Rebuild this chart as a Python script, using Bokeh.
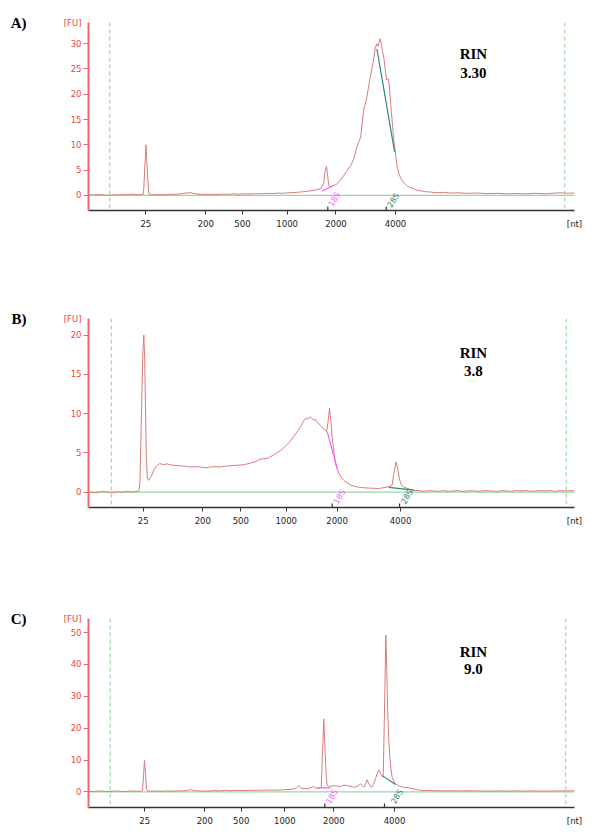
from bokeh.plotting import figure
from bokeh.layouts import column
from bokeh.models import FixedTicker, Span, Range1d, LinearAxis
from bokeh.core.properties import value
from bokeh.embed import file_html
from bokeh.resources import INLINE

# ---------------- data (migration time [s] vs fluorescence [FU]) ----------------
ladder_labels = ["25", "200", "500", "1000", "2000", "4000"]

# Panel A
ladder_a = [24.90, 31.07, 34.84, 39.44, 44.46, 50.58]
rrna_a = [43.62, 49.63]
markers_a = [21.19, 68.0]
rin_a = "3.30"
t_a = [19.0, 19.5, 20.0, 20.5, 21.0, 21.5, 22.0, 22.5, 23.0, 23.5, 24.0, 24.4, 24.66, 24.8, 24.92,
       25.05, 25.2, 25.5, 26.0, 26.5, 27.0, 27.5, 28.0, 28.5, 29.0, 29.5, 30.0, 30.5, 31.0, 31.5,
       32.0, 32.5, 33.0, 33.5, 34.0, 34.5, 35.0, 35.5, 36.0, 36.5, 37.0, 37.5, 38.0, 38.5, 39.0,
       39.5, 40.0, 40.5, 41.0, 41.5, 42.0, 42.5, 42.9, 43.2, 43.35, 43.49, 43.62, 43.75, 43.9,
       44.2, 44.6, 44.9, 45.3, 45.6, 46.0, 46.3, 46.6, 47.0, 47.3, 47.6, 47.9, 48.1, 48.3, 48.5,
       48.65, 48.8, 48.97, 49.1, 49.25, 49.4, 49.55, 49.7, 49.85, 49.95, 50.07, 50.24, 50.4,
       50.58, 50.75, 50.92, 51.15, 51.4, 51.7, 52.0, 52.4, 52.8, 53.2, 53.7, 54.2, 54.8, 55.5,
       56.2, 57.0, 58.0, 59.0, 60.0, 61.0, 62.0, 63.0, 64.0, 65.0, 66.0, 67.0, 67.8, 68.4, 69.0]
fu_a = [0.1, 0.05, 0.15, 0.1, 0.0, 0.1, 0.05, 0.2, 0.1, 0.25, 0.1, 0.15, 0.3, 6.0, 10.0,
        5.0, 0.3, 0.1, 0.15, 0.1, 0.15, 0.2, 0.2, 0.3, 0.45, 0.55, 0.3, 0.2, 0.15, 0.2,
        0.15, 0.2, 0.25, 0.2, 0.3, 0.2, 0.3, 0.25, 0.3, 0.35, 0.3, 0.4, 0.35, 0.45, 0.4,
        0.5, 0.55, 0.6, 0.7, 0.8, 0.95, 1.1, 1.3, 2.5, 5.0, 5.7, 3.5, 1.8, 1.7,
        1.9, 2.3, 3.0, 4.0, 4.9, 6.0, 7.2, 9.5, 11.5, 16.8, 19.0, 22.5, 24.5, 26.5, 29.0,
        30.0, 29.5, 31.0, 30.2, 28.5, 27.0, 24.5, 22.8, 23.0, 21.5, 18.5, 14.8, 11.0,
        8.3, 5.8, 4.3, 3.3, 2.6, 2.0, 1.6, 1.4, 1.0, 0.9, 0.7, 0.65, 0.5, 0.6,
        0.45, 0.5, 0.4, 0.45, 0.35, 0.4, 0.3, 0.35, 0.3, 0.4, 0.3, 0.45, 0.5, 0.4, 0.5]
seg18_a_t, seg18_a_fu = [43.04, 44.25], [0.85, 2.0]
seg28_a_t, seg28_a_fu = [48.67, 50.49], [29.0, 8.6]

# Panel B
ladder_b = [24.63, 30.76, 34.67, 39.34, 44.57, 51.10]
rrna_b = [44.07, 51.0]
markers_b = [21.34, 68.15]
rin_b = "3.8"
t_b = [19.0, 19.5, 20.0, 20.5, 21.0, 21.5, 22.0, 22.5, 23.0, 23.5, 24.0, 24.2, 24.3, 24.45, 24.6,
       24.69, 24.78, 24.86, 24.95, 25.05, 25.2, 25.45, 25.72, 26.0, 26.34, 26.7, 27.1, 27.5,
       27.95, 28.4, 28.98, 29.5, 30.0, 30.52, 31.0, 31.5, 32.0, 32.5, 33.0, 33.5, 33.95, 34.5,
       35.0, 35.67, 36.2, 36.7, 37.38, 38.0, 38.75, 39.3, 39.78, 40.3, 40.81, 41.1, 41.33, 41.6,
       41.84, 42.1, 42.36, 42.6, 42.88, 43.2, 43.5, 43.65, 43.8, 43.95, 44.07, 44.25, 44.41,
       44.75, 45.0, 45.27, 45.6, 45.96, 46.5, 46.98, 47.5, 48.0, 48.35, 48.7, 49.04, 49.5, 49.89,
       50.24, 50.43, 50.65, 50.84, 51.0, 51.2, 51.5, 51.79, 52.1, 52.47, 53.0, 53.5, 54.0, 54.5,
       55.0, 55.5, 56.0, 56.5, 57.0, 57.5, 58.0, 58.5, 59.0, 59.5, 60.0, 60.5, 61.0, 61.5, 62.0,
       62.5, 63.0, 63.5, 64.0, 64.5, 65.0, 65.5, 66.0, 66.5, 67.0, 67.5, 68.0, 68.5, 69.0]
fu_b = [0.05, -0.05, 0.0, 0.1, 0.0, -0.05, 0.05, 0.0, 0.1, 0.0, 0.1, 0.2, 1.5, 10.0, 18.0,
        20.0, 17.0, 11.0, 4.5, 1.8, 1.5, 2.0, 2.8, 3.3, 3.65, 3.5, 3.6, 3.45,
        3.4, 3.35, 3.3, 3.2, 3.25, 3.2, 3.1, 3.2, 3.25, 3.2, 3.3, 3.35, 3.4, 3.45,
        3.5, 3.7, 3.9, 4.2, 4.3, 4.7, 5.3, 5.9, 6.5, 7.4, 8.3, 9.0, 9.4, 9.3,
        9.6, 9.2, 9.2, 8.8, 8.5, 8.1, 7.7, 9.0, 10.65, 8.8, 7.0, 5.0, 3.65,
        2.4, 1.9, 1.5, 1.2, 0.9, 0.7, 0.6, 0.55, 0.5, 0.5, 0.45, 0.5, 0.6, 0.7,
        0.9, 2.5, 3.85, 2.8, 1.6, 0.9, 0.6, 0.5, 0.35, 0.25, 0.2, 0.1, 0.2, 0.15,
        0.1, 0.2, 0.1, 0.15, 0.2, 0.1, 0.15, 0.2, 0.1, 0.15, 0.2, 0.15, 0.1, 0.2, 0.15,
        0.1, 0.2, 0.15, 0.2, 0.1, 0.15, 0.2, 0.15, 0.2, 0.1, 0.2, 0.15, 0.2, 0.15]
seg18_b_t, seg18_b_fu = [43.56, 44.59], [7.7, 3.0]
seg28_b_t, seg28_b_fu = [49.89, 52.47], [0.6, 0.25]

# Panel C
ladder_c = [24.79, 30.96, 34.71, 39.20, 44.24, 50.48]
rrna_c = [43.31, 49.45]
markers_c = [21.23, 68.1]
rin_c = "9.0"
t_c = [19.0, 19.5, 20.0, 20.5, 21.0, 21.5, 22.0, 22.5, 23.0, 23.5, 24.0, 24.4, 24.56, 24.66, 24.76,
       24.86, 24.97, 25.1, 25.5, 26.0, 26.5, 27.0, 27.5, 28.0, 28.5, 29.0, 29.5, 30.0, 30.5, 31.0,
       31.5, 32.0, 32.5, 33.0, 33.5, 34.0, 34.5, 35.0, 35.5, 36.0, 36.5, 37.0, 37.5, 38.0, 38.75,
       39.3, 39.8, 40.3, 40.64, 40.9, 41.33, 41.8, 42.18, 42.4, 42.66, 42.94, 43.07, 43.21, 43.35,
       43.48, 43.56, 43.9, 44.24, 44.6, 44.93, 45.3, 45.62, 46.0, 46.29, 46.7, 46.98, 47.15, 47.32,
       47.5, 47.67, 47.85, 48.08, 48.3, 48.5, 48.7, 48.87, 49.0, 49.14, 49.32, 49.45, 49.59, 49.69,
       49.79, 49.9, 50.0, 50.12, 50.24, 50.4, 50.58, 51.0, 51.44, 52.0, 52.47, 53.0, 53.5, 54.0,
       54.5, 55.0, 55.5, 56.0, 57.0, 58.0, 59.0, 60.0, 61.0, 62.0, 63.0, 64.0, 65.0, 66.0, 67.0,
       68.0, 69.0]
fu_c = [0.2, 0.1, 0.3, 0.2, 0.1, 0.2, 0.3, 0.1, 0.2, 0.3, 0.2, 0.2, 0.4, 5.0, 9.85,
        6.0, 0.8, 0.3, 0.2, 0.3, 0.2, 0.3, 0.2, 0.3, 0.3, 0.4, 0.7, 0.35, 0.3, 0.25,
        0.3, 0.4, 0.3, 0.5, 0.4, 0.45, 0.5, 0.4, 0.5, 0.45, 0.55, 0.5, 0.6, 0.55, 0.6,
        0.7, 0.8, 1.0, 2.0, 1.1, 1.0, 1.2, 1.7, 1.1, 1.2, 1.4, 12.0, 22.9, 12.0,
        4.0, 2.0, 1.6, 2.0, 1.8, 1.7, 2.1, 2.0, 1.7, 1.45, 1.8, 2.5, 2.0, 1.45,
        2.5, 3.8, 2.5, 1.45, 2.2, 3.8, 5.8, 6.9, 6.2, 5.1, 4.6, 25.0, 49.2, 38.0,
        24.5, 16.0, 10.9, 7.0, 4.6, 3.3, 2.5, 1.8, 1.45, 1.2, 0.95, 0.6, 0.4, 0.45,
        0.35, 0.4, 0.3, 0.35, 0.3, 0.35, 0.3, 0.25, 0.3, 0.25, 0.3, 0.25, 0.3, 0.25, 0.3,
        0.3, 0.35]
seg18_c_t, seg18_c_fu = [42.5, 43.87], [1.25, 1.25]
seg28_c_t, seg28_c_fu = [49.23, 50.58], [5.1, 2.3]

# ---------------- styling ----------------
TRACE = "#da7b7b"
RED_AX = "#f06666"
RED_TXT = "#ee4444"
GREEN = "#9ad6a8"
MAGENTA = "#ff5cff"
TEAL = "#2b8a7c"
SANS = "DejaVu Sans"
SERIF = "Liberation Serif"
X0, X1 = 19, 69


def panel(letter, t, fu, yr, yticks, ladder, rrna, markers, rin, s18, s28,
          lab18, lab28, rin_y, border_top, border_bottom, frame_h):
    ymin, ymax = yr
    p = figure(frame_width=486, frame_height=frame_h, output_backend="svg",
               toolbar_location=None, x_range=Range1d(X0, X1), y_range=Range1d(ymin, ymax))
    p.min_border_left = 88
    p.min_border_right = 18
    p.min_border_top = border_top
    p.min_border_bottom = border_bottom
    p.outline_line_color = None
    p.xgrid.visible = False
    p.ygrid.visible = False
    p.background_fill_color = "white"
    p.border_fill_color = "white"

    # y axis: numeric ticks + "[FU]" unit label at the top of the axis
    ya = p.yaxis[0]
    ya.ticker = FixedTicker(ticks=list(yticks) + [ymax], minor_ticks=list(yticks))
    ov = {v: str(v) for v in yticks}
    ov[ymax] = "[FU]"
    ya.major_label_overrides = ov
    ya.axis_line_color = RED_AX
    ya.axis_line_width = 2
    ya.major_tick_line_color = None
    ya.minor_tick_line_color = RED_AX
    ya.minor_tick_out = 5
    ya.minor_tick_in = 0
    ya.major_tick_out = 5
    ya.major_tick_in = 0
    ya.major_label_text_color = RED_TXT
    ya.major_label_text_font = SANS
    ya.major_label_text_font_size = "8.5px"
    ya.major_label_standoff = 2

    # panel letter, placed as the outer left guide
    la = LinearAxis(ticker=FixedTicker(ticks=[ymax]), major_label_overrides={ymax: letter})
    la.axis_line_color = None
    la.major_tick_line_color = None
    la.minor_tick_line_color = None
    la.major_tick_out = 0
    la.major_tick_in = 0
    la.major_label_standoff = 34
    la.major_label_text_font = SERIF
    la.major_label_text_font_size = "15px"
    la.major_label_text_font_style = "bold"
    la.major_label_text_color = "black"
    p.add_layout(la, "left")

    # x axis: ladder sizes + "[nt]" unit label at the end
    xa = p.xaxis[0]
    xa.ticker = FixedTicker(ticks=list(ladder) + [X1], minor_ticks=list(ladder))
    xov = {pos: lab for pos, lab in zip(ladder, ladder_labels)}
    xov[X1] = "[nt]"
    xa.major_label_overrides = xov
    xa.axis_line_color = "#333333"
    xa.axis_line_width = 1.5
    xa.major_tick_line_color = None
    xa.major_tick_out = 4
    xa.major_tick_in = 0
    xa.minor_tick_line_color = "#333333"
    xa.minor_tick_in = 0
    xa.minor_tick_out = 4
    xa.major_label_text_font = SANS
    xa.major_label_text_font_size = "8.5px"
    xa.major_label_text_color = "#222222"
    xa.major_label_standoff = 4

    # rRNA position marks pointing up from the axis
    tick_len = 4 * (ymax - ymin) / frame_h
    p.segment(x0=rrna, y0=[ymin] * len(rrna), x1=rrna, y1=[ymin + tick_len] * len(rrna),
              line_color="#333333", line_width=1.2)

    for m in markers:
        p.add_layout(Span(location=m, dimension="height", line_color="#8fcf8f",
                          line_dash="4 3", line_width=1))
    p.line([X0, X1], [0, 0], line_color=GREEN, line_width=1.2)
    p.line(t, fu, line_color=TRACE, line_width=1)
    p.line(s18[0], s18[1], line_color=MAGENTA, line_width=1.2)
    p.line(s28[0], s28[1], line_color=TEAL, line_width=1.2)

    p.text(x=[lab18[0]], y=[lab18[1]], text=["18S"], angle=60, angle_units="deg",
           text_font=value(SANS), text_font_size="8px", text_color=MAGENTA,
           text_align="center", text_baseline="middle")
    p.text(x=[lab28[0]], y=[lab28[1]], text=["28S"], angle=60, angle_units="deg",
           text_font=value(SANS), text_font_size="8px", text_color=TEAL,
           text_align="center", text_baseline="middle")

    p.text(x=[58.6, 58.6], y=rin_y, text=["RIN", rin], text_font=value(SERIF),
           text_font_size="15px", text_font_style="bold", text_color="black",
           text_align="center", text_baseline="middle")
    return p


pA = panel("A)", t_a, fu_a, (-3.0, 34.2), [0, 5, 10, 15, 20, 25, 30], ladder_a, rrna_a,
           markers_a, rin_a, (seg18_a_t, seg18_a_fu), (seg28_a_t, seg28_a_fu),
           (44.31, -0.8), (50.38, -1.0), [27.9, 24.3], 22, 68, 188)
pB = panel("B)", t_b, fu_b, (-1.95, 22.1), [0, 5, 10, 15, 20], ladder_b, rrna_b,
           markers_b, rin_b, (seg18_b_t, seg18_b_fu), (seg28_b_t, seg28_b_fu),
           (44.85, -0.6), (51.79, -0.6), [17.7, 15.4], 40, 71, 189)
pC = panel("C)", t_c, fu_c, (-4.9, 54.4), [0, 10, 20, 30, 40, 50], ladder_c, rrna_c,
           markers_c, rin_c, (seg18_c_t, seg18_c_fu), (seg28_c_t, seg28_c_fu),
           (44.07, -1.5), (50.76, -1.5), [43.9, 38.5], 40, 20, 189)

layout = column(pA, pB, pC)
open("out.html", "w").write(file_html(layout, INLINE))
